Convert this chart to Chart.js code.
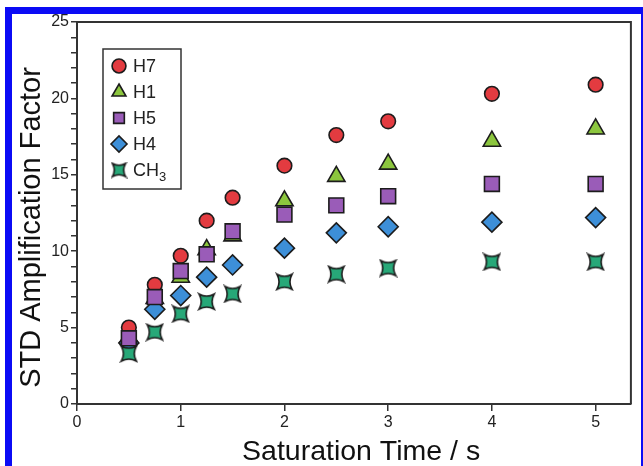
<!DOCTYPE html>
<html>
<head>
<meta charset="utf-8">
<script src="https://cdn.jsdelivr.net/npm/chart.js@4/dist/chart.umd.min.js"></script>
<style>
  html, body { margin: 0; padding: 0; background: #fff; }
  #wrap { position: relative; width: 643px; height: 466px; overflow: hidden; }
  #frame {
    position: absolute; left: 5px; top: 7px; width: 643px; height: 470px;
    box-sizing: border-box; border: 7px solid #0b0bf5;
    pointer-events: none;
  }
  canvas { position: absolute; left: 0; top: 0; }
</style>
</head>
<body>
<div id="wrap">
  <canvas id="stdChart" width="643" height="466"></canvas>
  <div id="frame"></div>
</div>
<script>
const times = [0.5, 0.75, 1, 1.25, 1.5, 2, 2.5, 3, 4, 5];
const h7 = [5.0, 7.8, 9.7, 12.0, 13.5, 15.6, 17.6, 18.5, 20.3, 20.9];
const h1 = [4.4, 6.9, 8.3, 10.1, 11.0, 13.3, 14.9, 15.7, 17.2, 18.0];
const h5 = [4.3, 7.0, 8.7, 9.8, 11.3, 12.4, 13.0, 13.6, 14.4, 14.4];
const h4 = [4.0, 6.2, 7.1, 8.3, 9.1, 10.2, 11.2, 11.6, 11.9, 12.2];
const ch3 = [3.3, 4.7, 5.9, 6.7, 7.2, 8.0, 8.5, 8.9, 9.3, 9.3];
const xTicks = [0, 1, 2, 3, 4, 5];

const EDGE = "#1c1c1c";
const FONT = "'Liberation Sans', Arial, Helvetica, sans-serif";

// four-pointed concave star used for CH3
function makeStar(fill, r) {
  const c = document.createElement("canvas");
  c.width = 2 * r + 4; c.height = 2 * r + 4;
  const g = c.getContext("2d");
  const k = r * 0.45;
  g.translate(c.width / 2, c.height / 2);
  g.beginPath();
  g.moveTo(-r, -r);
  g.quadraticCurveTo(0, -k, r, -r);
  g.quadraticCurveTo(k, 0, r, r);
  g.quadraticCurveTo(0, k, -r, r);
  g.quadraticCurveTo(-k, 0, -r, -r);
  g.closePath();
  g.fillStyle = fill;
  g.fill();
  g.lineWidth = 1.6;
  g.strokeStyle = EDGE;
  g.stroke();
  return c;
}
const starImg = makeStar("#27a878", 7.5);
const starSmall = makeStar("#27a878", 6.5);

const pts = (ys) => times.map((t, i) => ({ x: t, y: ys[i] }));

const series = [
  { label: "H7", data: pts(h7), pointStyle: "circle", pointRadius: 7.3, pointBackgroundColor: "#e33b40", order: 2 },
  { label: "H1", data: pts(h1), pointStyle: "triangle", pointRadius: 10, pointBackgroundColor: "#8cc63e", order: 5 },
  { label: "H5", data: pts(h5), pointStyle: "rect", pointRadius: 10.5, pointBackgroundColor: "#9a5cb8", order: 1 },
  { label: "H4", data: pts(h4), pointStyle: "rectRot", pointRadius: 10, pointBackgroundColor: "#3d8fd8", order: 4 },
  { label: "CH3", data: pts(ch3), pointStyle: starImg, pointRadius: 8, pointBackgroundColor: "#27a878", order: 3, sub: "3" },
];

function drawMarker(ctx, style, x, y, r, fill) {
  ctx.save();
  if (style instanceof HTMLCanvasElement) {
    ctx.drawImage(starSmall, x - starSmall.width / 2, y - starSmall.height / 2);
    ctx.restore();
    return;
  }
  ctx.beginPath();
  if (style === "circle") {
    ctx.arc(x, y, r, 0, Math.PI * 2);
  } else if (style === "triangle") {
    for (let i = 0; i < 3; i++) {
      const a = -Math.PI / 2 + (i * 2 * Math.PI) / 3;
      const px = x + Math.cos(a) * r, py = y + Math.sin(a) * r;
      i ? ctx.lineTo(px, py) : ctx.moveTo(px, py);
    }
  } else if (style === "rect") {
    const s = r * Math.SQRT1_2;
    ctx.rect(x - s, y - s, 2 * s, 2 * s);
  } else if (style === "rectRot") {
    ctx.moveTo(x - r, y); ctx.lineTo(x, y - r); ctx.lineTo(x + r, y); ctx.lineTo(x, y + r);
  }
  ctx.closePath();
  ctx.fillStyle = fill;
  ctx.fill();
  ctx.lineWidth = 1.6;
  ctx.strokeStyle = EDGE;
  ctx.stroke();
  ctx.restore();
}

const boxLegend = {
  id: "boxLegend",
  afterDatasetsDraw(chart) {
    const { ctx } = chart;
    ctx.save();
    ctx.fillStyle = "#fff";
    ctx.fillRect(103, 49, 78, 140);
    ctx.lineWidth = 1.5;
    ctx.strokeStyle = "#333";
    ctx.strokeRect(103, 49, 78, 140);
    series.forEach((s, i) => {
      const y = 66 + i * 26;
      const scale = s.pointStyle === "rect" ? 0.72 : s.pointStyle === "circle" ? 0.95 : 0.8;
      drawMarker(ctx, s.pointStyle, 119, y, s.pointRadius * scale, s.pointBackgroundColor);
      ctx.fillStyle = "#222";
      ctx.font = "18px " + FONT;
      ctx.textBaseline = "middle";
      const name = s.sub ? s.label.slice(0, -s.sub.length) : s.label;
      ctx.fillText(name, 133, y + 1);
      if (s.sub) {
        const w = ctx.measureText(name).width;
        ctx.font = "13px " + FONT;
        ctx.fillText(s.sub, 133 + w, y + 7);
      }
    });
    ctx.restore();
  },
};

const plotFrame = {
  id: "plotFrame",
  afterDraw(chart) {
    const { ctx, chartArea: a } = chart;
    ctx.save();
    ctx.strokeStyle = "#333";
    ctx.lineWidth = 2;
    ctx.beginPath();
    ctx.moveTo(a.left, a.top);
    ctx.lineTo(a.right, a.top);
    ctx.lineTo(a.right, a.bottom);
    ctx.stroke();
    ctx.restore();
  },
};

new Chart(document.getElementById("stdChart"), {
  type: "scatter",
  data: {
    datasets: series.map((s) => ({
      label: s.label,
      data: s.data,
      pointStyle: s.pointStyle,
      pointRadius: s.pointRadius,
      pointHoverRadius: s.pointRadius,
      pointBackgroundColor: s.pointBackgroundColor,
      pointBorderColor: EDGE,
      pointBorderWidth: 1.6,
      order: s.order,
    })),
  },
  options: {
    responsive: false,
    animation: false,
    layout: { padding: { left: 0, right: 4, top: 22, bottom: 0 } },
    plugins: { legend: { display: false }, tooltip: { enabled: false } },
    scales: {
      x: {
        type: "linear",
        min: 0,
        max: 5.34,
        afterBuildTicks: (scale) => { scale.ticks = xTicks.map((v) => ({ value: v })); },
        afterFit: (scale) => { scale.height = 62; },
        border: { color: "#333", width: 2 },
        grid: { drawOnChartArea: false, tickLength: 7, color: "#333", lineWidth: 1.5 },
        ticks: { color: "#222", padding: 2, font: { family: FONT, size: 16 }, maxRotation: 0 },
        title: {
          display: true,
          text: "\u2002Saturation Time / s",
          color: "#111",
          font: { family: FONT, size: 28.5, lineHeight: 1 },
          padding: { top: 0, bottom: 0 },
        },
      },
      y: {
        min: 0,
        max: 25,
        afterFit: (scale) => { scale.width = 77; },
        border: { color: "#333", width: 2 },
        grid: { drawOnChartArea: false, tickLength: 6, color: "#333", lineWidth: 1.5 },
        ticks: {
          stepSize: 1,
          autoSkip: false,
          color: "#222",
          padding: 2,
          font: { family: FONT, size: 16 },
          callback: (v) => (v % 5 === 0 ? v : ""),
        },
        title: {
          display: true,
          text: "STD Amplification Factor\u2002\u2002",
          color: "#111",
          font: { family: FONT, size: 29, lineHeight: 1 },
          padding: { top: 17, bottom: 0 },
        },
      },
    },
  },
  plugins: [boxLegend, plotFrame],
});
</script>
</body>
</html>
